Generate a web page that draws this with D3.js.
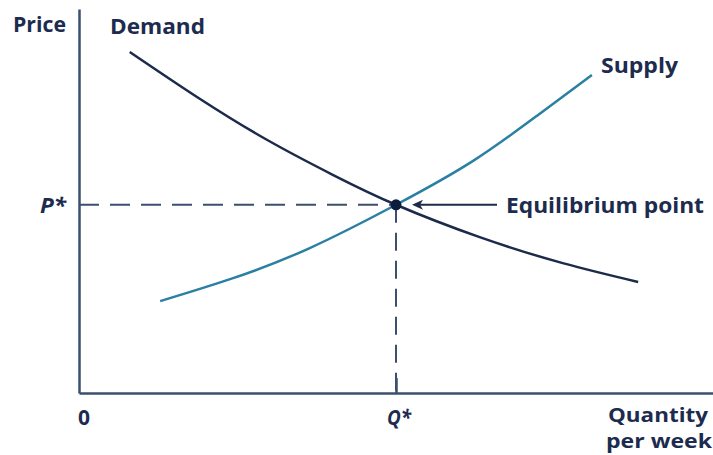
<!DOCTYPE html>
<html>
<head>
<meta charset="utf-8">
<script src="https://cdn.jsdelivr.net/npm/d3@7"></script>
<style>
  body { margin: 0; background: #fff; }
  text { font-family: "Open Sans", "Noto Sans", sans-serif; font-weight: 700; fill: #1c2b4e; }
</style>
</head>
<body>
<script>
// Chart size
const width = 713;
const height = 455;

// Curve data (quantity, price in chart units; equilibrium at 5, 5)
const demandQ = [0.80, 1.91, 2.97, 4.01, 5.00, 6.32, 7.63, 8.82];
const demandP = [9.06, 7.81, 6.72, 5.79, 5.00, 4.14, 3.45, 2.95];
const supplyQ = [1.28, 2.43, 3.64, 5.00, 6.21, 7.22, 8.09];
const supplyP = [2.44, 3.05, 3.85, 5.00, 6.16, 7.36, 8.45];

// Equilibrium
const eqQ = 5;
const eqP = 5;

// Axis labels
const xTickLabels = ['0', 'Q*'];
const yTickLabels = ['P*'];

const svg = d3.select('body')
  .append('svg')
  .attr('width', width)
  .attr('height', height);

// Scales
const x = d3.scaleLinear().domain([0, 10]).range([79, 713]);
const y = d3.scaleLinear().domain([0, 10.2]).range([393, 9]);

const axisColor = '#3b4f6e';
const navy = '#1c2b4a';

// Dashed guide lines
svg.append('line')
  .attr('x1', x(0)).attr('x2', x(eqQ))
  .attr('y1', y(eqP)).attr('y2', y(eqP))
  .attr('stroke', axisColor)
  .attr('stroke-width', 2)
  .attr('stroke-dasharray', '20 11');

svg.append('line')
  .attr('x1', x(eqQ)).attr('x2', x(eqQ))
  .attr('y1', y(eqP)).attr('y2', y(0))
  .attr('stroke', axisColor)
  .attr('stroke-width', 2)
  .attr('stroke-dasharray', '18 10');

// Axes (domain lines only, one tick at Q*)
svg.append('g')
  .attr('transform', `translate(${x(0)},0)`)
  .call(d3.axisLeft(y).tickValues([]).tickSizeOuter(0));
svg.append('g')
  .attr('transform', `translate(0,${y(0)})`)
  .call(d3.axisBottom(x).tickValues([eqQ]).tickSize(-15).tickSizeOuter(0).tickFormat(''));
svg.selectAll('.domain, .tick line')
  .attr('stroke', axisColor)
  .attr('stroke-width', 2.5);

// Curves
const line = d3.line()
  .x(d => x(d[0]))
  .y(d => y(d[1]))
  .curve(d3.curveNatural);

svg.append('path')
  .datum(d3.zip(demandQ, demandP))
  .attr('d', line)
  .attr('fill', 'none')
  .attr('stroke', navy)
  .attr('stroke-width', 2.5);

svg.append('path')
  .datum(d3.zip(supplyQ, supplyP))
  .attr('d', line)
  .attr('fill', 'none')
  .attr('stroke', '#2a80a2')
  .attr('stroke-width', 2.5);

// Equilibrium point
svg.append('circle')
  .attr('cx', x(eqQ))
  .attr('cy', y(eqP))
  .attr('r', 5.5)
  .attr('fill', '#0d1e3d');

// Arrow pointing at the equilibrium
const ay = y(eqP);
const tip = x(eqQ) + 16;
svg.append('line')
  .attr('x1', 497).attr('x2', tip + 8)
  .attr('y1', ay).attr('y2', ay)
  .attr('stroke', navy)
  .attr('stroke-width', 2);
svg.append('path')
  .attr('d', `M${tip},${ay} L${tip + 11},${ay - 5} L${tip + 8},${ay} L${tip + 11},${ay + 5} Z`)
  .attr('fill', navy);

// Labels
function label(t, px, py, len, italic, size) {
  svg.append('text')
    .text(t)
    .attr('x', px)
    .attr('y', py)
    .attr('font-size', size || 22)
    .attr('font-style', italic ? 'italic' : 'normal')
    .attr('textLength', len)
    .attr('lengthAdjust', 'spacingAndGlyphs');
}

label('Price', 13, 32, 53);
label('Demand', 110, 34, 95);
label('Supply', 601, 73, 77);
label('Equilibrium point', 506, 213, 198);
label(yTickLabels[0], 40, 213, 26, true);
label(xTickLabels[0], x(0) - 1, 425, 12);
label(xTickLabels[1], x(eqQ) - 9, 425, 24, true);
label('Quantity', 608, 422, 100, false, 19);
label('per week', 606, 448, 106, false, 19);
</script>
</body>
</html>
